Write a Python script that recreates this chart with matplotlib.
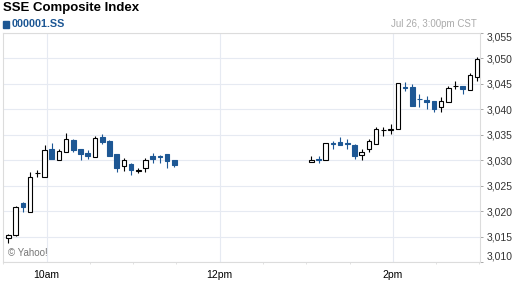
import matplotlib
matplotlib.use("Agg")
import matplotlib.pyplot as plt
import numpy as np
import pandas as pd

plt.rcParams['font.family'] = ['Liberation Sans', 'DejaVu Sans']

# 5-minute bars, morning session 9:30-11:30, afternoon 13:00-15:00
morning_start = pd.date_range('2013-07-26 09:30', periods=24, freq='5min')
afternoon_start = pd.date_range('2013-07-26 13:00', periods=24, freq='5min')

opens = [3014.8, 3015.3, 3021.6, 3019.8, 3027.4, 3026.8, 3032.3, 3030.1,
         3031.7, 3034.0, 3032.3, 3031.5, 3030.6, 3034.5, 3033.8, 3031.2,
         3028.8, 3029.2, 3027.9, 3028.4, 3030.8, 3030.8, 3031.2, 3030.0,
         3029.6, 3030.2, 3030.1, 3033.3, 3033.5, 3033.3, 3032.9, 3031.0,
         3032.2, 3033.2, 3035.9, 3036.0, 3036.1, 3044.3, 3044.3, 3042.1,
         3041.8, 3041.7, 3040.4, 3041.4, 3044.5, 3044.6, 3043.8, 3046.3]
highs = [3015.5, 3021.0, 3021.8, 3027.7, 3028.0, 3033.0, 3033.3, 3032.3,
         3035.3, 3034.2, 3032.3, 3032.1, 3034.8, 3035.1, 3034.0, 3031.2,
         3030.5, 3029.5, 3028.4, 3030.4, 3031.5, 3031.0, 3031.2, 3030.0,
         3030.9, 3030.9, 3033.3, 3033.7, 3034.5, 3034.2, 3033.2, 3032.2,
         3034.2, 3036.5, 3036.5, 3037.1, 3045.2, 3045.3, 3045.0, 3043.0,
         3042.7, 3041.7, 3042.5, 3044.5, 3045.6, 3044.6, 3047.1, 3050.2]
lows = [3013.8, 3015.2, 3019.8, 3019.8, 3026.7, 3026.8, 3030.2, 3030.1,
        3031.7, 3031.7, 3030.0, 3030.2, 3030.6, 3033.1, 3030.9, 3027.6,
        3027.9, 3027.0, 3027.5, 3027.7, 3029.5, 3029.5, 3028.5, 3028.6,
        3029.6, 3029.4, 3030.0, 3032.2, 3032.9, 3032.2, 3030.3, 3030.1,
        3031.6, 3033.2, 3034.7, 3035.2, 3036.1, 3043.7, 3040.7, 3040.4,
        3040.1, 3039.5, 3039.5, 3041.4, 3044.0, 3043.0, 3043.8, 3045.6]
closes = [3015.4, 3020.8, 3020.8, 3026.7, 3027.5, 3032.1, 3030.2, 3031.9,
          3034.1, 3032.0, 3031.2, 3030.9, 3034.3, 3033.5, 3030.9, 3028.5,
          3030.0, 3028.0, 3028.0, 3030.0, 3030.3, 3030.6, 3029.8, 3029.0,
          3030.0, 3030.1, 3033.3, 3033.2, 3032.9, 3033.2, 3030.8, 3031.6,
          3033.7, 3036.1, 3036.0, 3036.1, 3045.2, 3044.2, 3040.7, 3042.0,
          3041.4, 3040.1, 3041.7, 3044.2, 3044.6, 3044.0, 3046.8, 3049.9]

y_ticks = [3010, 3015, 3020, 3025, 3030, 3035, 3040, 3045, 3050, 3055]
x_tick_labels = ['10am', '12pm', '2pm']
x_tick_minutes = [30, 150, 270]

blue = '#1d5794'

times = morning_start.append(afternoon_start)
open_time = pd.Timestamp('2013-07-26 09:30')
x = np.array((times - open_time).total_seconds() / 60.0) + 3.5
o = np.array(opens)
c = np.array(closes)
up = c >= o

fig = plt.figure(figsize=(5.12, 2.88), dpi=100)
ax = fig.add_axes([3 / 512, 1 - 262 / 288, 477 / 512, 229 / 288])

ax.vlines(x, lows, highs, colors=np.where(up, 'black', blue), linewidth=0.8, zorder=2)
bottoms = np.minimum(o, c)
heights = np.abs(c - o)
ax.bar(x[up], heights[up], bottom=bottoms[up], width=3.2,
       facecolor='white', edgecolor='black', linewidth=0.8, zorder=3)
ax.bar(x[~up], heights[~up], bottom=bottoms[~up], width=3.2,
       facecolor=blue, edgecolor=blue, linewidth=0.8, zorder=3)

ax.set_xlim(-0.3, 330.5)
ax.set_ylim(3010, 3055)
ax.set_yticks(y_ticks)
ax.set_yticklabels([f'{v:,}' for v in y_ticks])
ax.set_xticks(x_tick_minutes)
ax.set_xticklabels(x_tick_labels)
ax.set_xticks(np.arange(0, 331, 30), minor=True)
ax.yaxis.tick_right()
ax.tick_params(axis='y', length=2, pad=3, labelsize=7.5, colors='#999999',
               labelcolor='#333333', width=0.6)
ax.tick_params(axis='x', which='major', length=0, pad=6, labelsize=7.5, labelcolor='black')
ax.tick_params(axis='x', which='minor', length=1.5, colors='#dddddd')
ax.grid(True, which='major', color='#e6eaf2', linewidth=0.8, zorder=0)
for s in ax.spines.values():
    s.set_color('#dcdcdc')
    s.set_linewidth(0.8)

# outermost price labels sit inside the plot frame
ylabels = ax.get_yticklabels()
ylabels[0].set_va('bottom')
ylabels[-1].set_va('top')

fig.text(3 / 512, 1 - 2 / 288, 'SSE Composite Index', fontsize=9.5, fontweight='bold',
         va='top', ha='left', color='black')
fig.patches.append(plt.Rectangle((3 / 512, 1 - 28 / 288), 6 / 512, 7 / 288,
                                 transform=fig.transFigure, color=blue))
fig.text(12 / 512, 1 - 19 / 288, '000001.SS', fontsize=7.8, fontweight='bold',
         va='top', ha='left', color=blue)
fig.text(477 / 512, 1 - 19 / 288, 'Jul 26, 3:00pm CST', fontsize=7, va='top',
         ha='right', color='#aaaaaa')
ax.text(0.01, 0.025, '© Yahoo!', transform=ax.transAxes, fontsize=7, color='#777777',
        va='baseline', ha='left')

fig.savefig('out.png', dpi=100)
